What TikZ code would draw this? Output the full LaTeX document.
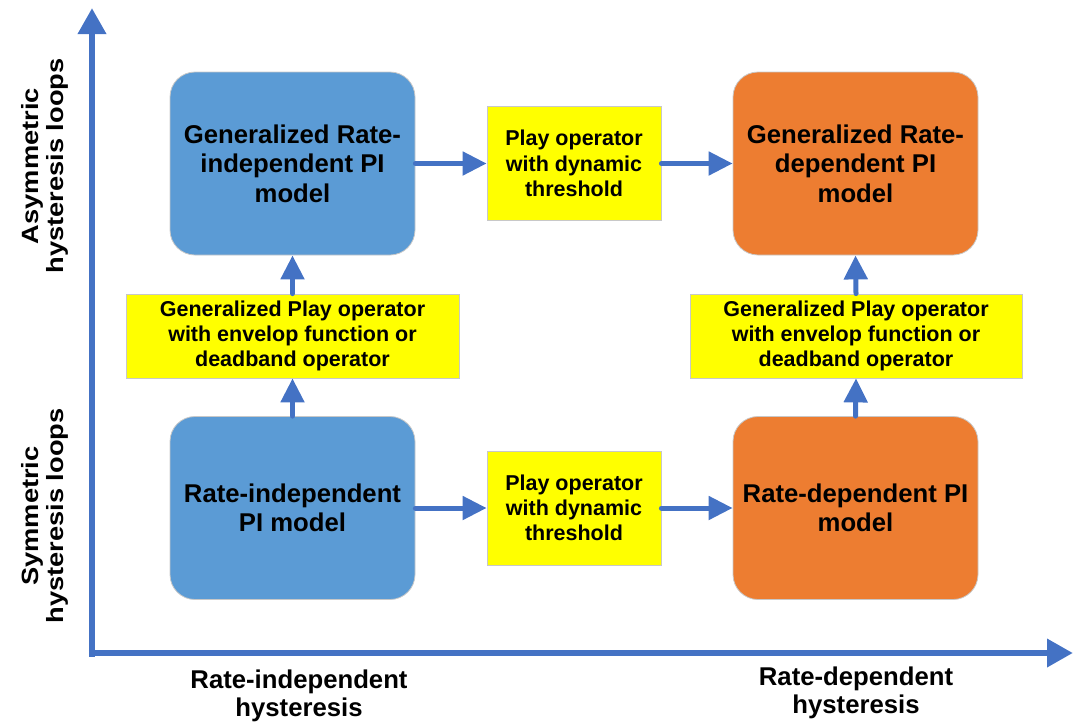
\documentclass[tikz,border=0pt]{standalone}
\usepackage{fontspec}
\setmainfont{Liberation Sans}
\usetikzlibrary{arrows.meta}
\definecolor{boxblue}{HTML}{5B9BD5}
\definecolor{boxorange}{HTML}{ED7D31}
\definecolor{arrblue}{HTML}{4472C4}
\definecolor{edgegray}{HTML}{C8C8C8}
\definecolor{yel}{HTML}{FFFF00}
\tikzset{
  bigbox/.style={draw=edgegray, line width=0.8pt, rounded corners=25pt, minimum width=245pt, minimum height=183pt, align=center, inner sep=0pt, font=\fontsize{25.7}{29.6}\selectfont\bfseries},
  bluebox/.style={bigbox, fill=boxblue},
  orangebox/.style={bigbox, fill=boxorange},
  ybox/.style={draw=edgegray, line width=0.8pt, fill=yel, align=center, inner sep=0pt, font=\fontsize{21.5}{25.2}\selectfont\bfseries},
  arr/.style={draw=arrblue, line width=5pt, line cap=round, -{Triangle[width=23pt,length=24pt]}},
  axisarr/.style={draw=arrblue, line width=6.5pt, -{Triangle[width=27pt,length=26pt]}},
  axlabel/.style={align=center, inner sep=0pt, font=\fontsize{25.7}{28.5}\selectfont\bfseries},
  vlabel/.style={align=center, inner sep=0pt, rotate=90, font=\fontsize{23.5}{25.5}\selectfont\bfseries},
}
\newcommand{\wideline}[1]{\scalebox{1.16}[1]{#1}}
\begin{document}
\begin{tikzpicture}[x=1pt,y=-1pt]
\useasboundingbox (0,0) rectangle (1073,726);
% axes
\coordinate (o1) at (92,656.5);
\coordinate (ytop) at (92,8);
\coordinate (o2) at (88.8,653);
\coordinate (xend) at (1073,653);
\draw[axisarr] (o1) -- (ytop);
\draw[axisarr] (o2) -- (xend);
% boxes
\node[bluebox] (tl) at (292.5,163.5) {Generalized Rate-\\independent PI\\model};
\node[orangebox] (tr) at (855.5,163.5) {Generalized Rate-\\dependent PI\\model};
\node[bluebox] (bl) at (292.5,508) {Rate-independent\\PI model};
\node[orangebox] (br) at (855.5,508) {Rate-dependent PI\\model};
\node[ybox, minimum width=174pt, minimum height=114pt] (ym) at (574,163.5) {Play operator\\with dynamic\\threshold};
\node[ybox, minimum width=174pt, minimum height=114pt] (ymb) at (574,508) {Play operator\\with dynamic\\threshold};
\node[ybox, minimum width=333pt, minimum height=84pt] (yl) at (292.5,336) {Generalized Play operator\\with envelop function or\\deadband operator};
\node[ybox, minimum width=332pt, minimum height=84pt] (yr) at (856,336) {Generalized Play operator\\with envelop function or\\deadband operator};
% connectors
\draw[arr] (tl.east) -- (ym.west);
\draw[arr] (ym.east) -- (tr.west);
\draw[arr] (bl.east) -- (ymb.west);
\draw[arr] (ymb.east) -- (br.west);
\draw[arr] (bl.north) -- (yl.south);
\draw[arr] (yl.north) -- (tl.south);
\draw[arr] (br.north) -- (yr.south);
\draw[arr] (yr.north) -- (tr.south);
% axis labels
\node[vlabel] (asym) at (45,166) {\wideline{Asymmetric}\\\wideline{hysteresis loops}};
\node[vlabel] (sym) at (45,516) {\wideline{Symmetric}\\\wideline{hysteresis loops}};
\node[axlabel] (ri) at (299,696) {Rate-independent\\hysteresis};
\node[axlabel] (rd) at (856,693) {Rate-dependent\\hysteresis};
\end{tikzpicture}
\end{document}
